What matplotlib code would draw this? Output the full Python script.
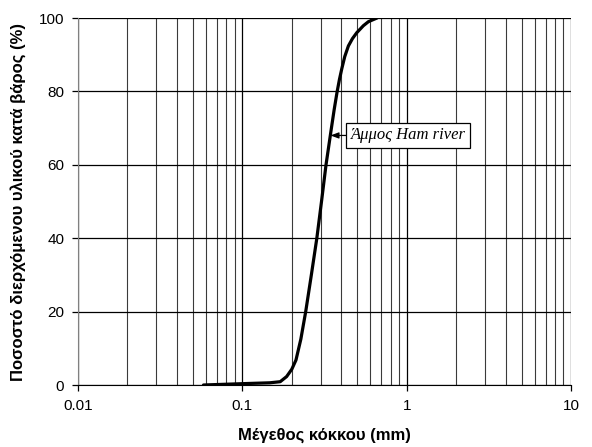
"""Grain size distribution curve, Ham river sand"""
import matplotlib
matplotlib.use("Agg")
import matplotlib.pyplot as plt
from matplotlib.ticker import LogLocator, FixedLocator, NullFormatter

# grain size (mm) and percent passing
grain_size = [0.058, 0.106, 0.147, 0.170, 0.186, 0.200, 0.212, 0.227, 0.243,
              0.263, 0.284, 0.304, 0.323, 0.347, 0.362, 0.377, 0.390, 0.403,
              0.420, 0.442, 0.468, 0.497, 0.545, 0.585, 0.66]
passing = [0.0, 0.4, 0.6, 0.9, 2.3, 4.3, 6.8, 12.5, 20.0,
           30.0, 40.0, 50.4, 60.0, 69.5, 75.0, 79.8, 83.3, 86.2,
           89.5, 92.4, 94.4, 96.0, 97.9, 99.0, 100.0]

x_ticks = [0.01, 0.1, 1, 10]
x_tick_labels = ["0.01", "0.1", "1", "10"]
y_ticks = [0, 20, 40, 60, 80, 100]

label_text = "Άμμος Ham river"
x_title = "Μέγεθος κόκκου (mm)"
y_title = "Ποσοστό διερχόμενου υλικού κατά βάρος (%)"

plt.rcParams['font.family'] = ['Liberation Sans', 'DejaVu Sans']

fig = plt.figure(figsize=(5.92, 4.47), dpi=100)
ax = fig.add_axes([0.1318, 0.1387, 0.8327, 0.8210])

ax.set_xscale('log')
ax.set_xlim(0.01, 10)
ax.set_ylim(0, 100)

ax.xaxis.set_major_locator(FixedLocator(x_ticks))
ax.set_xticklabels(x_tick_labels)
ax.xaxis.set_minor_locator(LogLocator(base=10, subs=range(2, 10)))
ax.xaxis.set_minor_formatter(NullFormatter())
ax.set_yticks(y_ticks)

ax.grid(which='major', axis='both', color='black', lw=0.9)
ax.grid(which='minor', axis='x', color='#3a3a3a', lw=0.8)
ax.tick_params(axis='both', which='major', labelsize=11, length=4, width=0.9,
               direction='out', colors='black', pad=6)
ax.tick_params(axis='x', which='minor', length=0)

for side in ['top', 'right']:
    ax.spines[side].set_visible(False)
ax.spines['left'].set_color('#808080')
ax.spines['bottom'].set_color('black')

ax.plot(grain_size, passing, color='black', lw=2.3, solid_capstyle='round',
        solid_joinstyle='round')

ax.annotate(label_text, xy=(0.344, 68), xytext=(0.455, 68),
            ha='left', va='center', fontsize=12, style='italic',
            family=['Liberation Serif', 'DejaVu Serif'],
            bbox=dict(boxstyle='square,pad=0.25', fc='white', ec='black', lw=0.9),
            arrowprops=dict(arrowstyle='-|>,head_length=0.4,head_width=0.15',
                            color='black', lw=0.9, shrinkA=0, shrinkB=0))

ax.set_xlabel(x_title, fontsize=12, fontweight='bold', labelpad=11)
ax.set_ylabel(y_title, fontsize=12, fontweight='bold', labelpad=9)

fig.savefig('out.png', dpi=100)
